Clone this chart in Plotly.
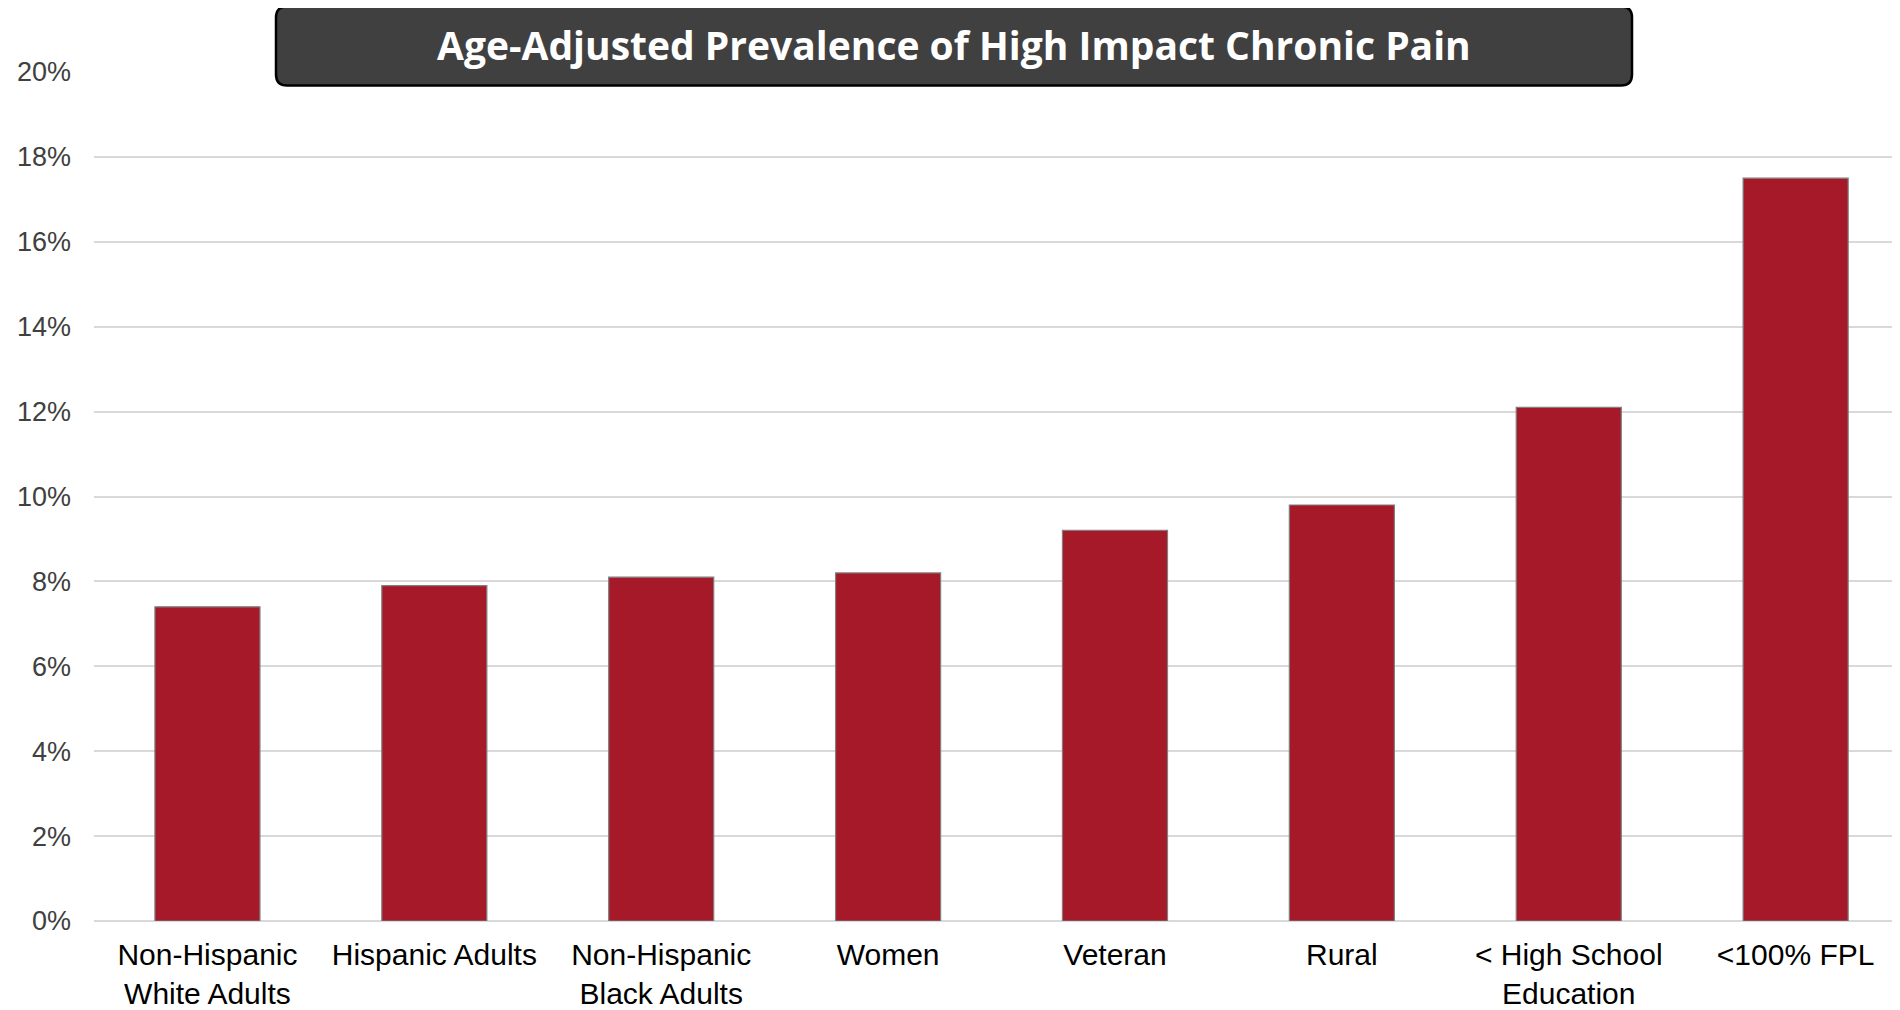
import plotly.graph_objects as go

categories = ["Non-Hispanic<br>White Adults", "Hispanic Adults", "Non-Hispanic<br>Black Adults",
              "Women", "Veteran", "Rural", "< High School<br>Education", "<100% FPL"]
values = [0.074, 0.079, 0.081, 0.082, 0.092, 0.098, 0.121, 0.175]
y_ticks = [0, 0.02, 0.04, 0.06, 0.08, 0.10, 0.12, 0.14, 0.16, 0.18, 0.20]
y_tick_labels = ["0%", "2%", "4%", "6%", "8%", "10%", "12%", "14%", "16%", "18%", "20%"]
title_text = "Age-Adjusted Prevalence of High Impact Chronic Pain"

# page offset (body margin) compensation
OFF = 8
W, H = 1900 - OFF, 1010 - OFF
L, T, B = 94 - OFF, 71.5 - OFF, H - (921 - OFF)
PW, PH = W - L, H - T - B

fig = go.Figure()
fig.add_trace(go.Bar(
    x=list(range(len(categories))), y=values, width=0.463,
    marker=dict(color="#A51929", line=dict(color="#7F7F7F", width=1.2)),
    hoverinfo="skip",
))

fig.update_layout(
    width=W, height=H,
    margin=dict(l=L, r=0, t=T, b=B, pad=0, autoexpand=False),
    plot_bgcolor="white", paper_bgcolor="white",
    showlegend=False,
    font=dict(family="Arial, Liberation Sans, sans-serif"),
    xaxis=dict(
        range=[-0.5, 7.46], tickmode="array",
        tickvals=list(range(len(categories))), ticktext=categories,
        showgrid=False, zeroline=False, showline=False, ticks="",
        ticklabelstandoff=13, automargin=False,
        tickfont=dict(size=30, color="#000000"),
    ),
    yaxis=dict(
        range=[0, 0.2], tickmode="array", tickvals=y_ticks, ticktext=y_tick_labels,
        showgrid=True, gridcolor="#D9D9D9", gridwidth=2,
        zeroline=True, zerolinecolor="#D9D9D9", zerolinewidth=2,
        showline=False, ticks="", ticklabelstandoff=22, automargin=False,
        tickfont=dict(size=27, color="#404040"),
    ),
)

# rounded title box (page pixel coords -> paper coords)
def px(xp):
    return (xp - OFF - L) / PW
def py(yp):
    return (H - B - (yp - OFF)) / PH

x0, x1, y0, y1, r = 276, 1632, 6, 85, 11
path = (
    f"M {px(x0 + r)},{py(y0)} L {px(x1 - r)},{py(y0)} "
    f"Q {px(x1)},{py(y0)} {px(x1)},{py(y0 + r)} "
    f"L {px(x1)},{py(y1 - r)} Q {px(x1)},{py(y1)} {px(x1 - r)},{py(y1)} "
    f"L {px(x0 + r)},{py(y1)} Q {px(x0)},{py(y1)} {px(x0)},{py(y1 - r)} "
    f"L {px(x0)},{py(y0 + r)} Q {px(x0)},{py(y0)} {px(x0 + r)},{py(y0)} Z"
)
fig.add_shape(
    type="path", path=path, xref="paper", yref="paper", layer="above",
    fillcolor="#404040", line=dict(color="#000000", width=2.5),
)
fig.add_annotation(
    xref="paper", yref="paper",
    x=px(954), y=py(44),
    text="<b>" + title_text + "</b>", showarrow=False,
    font=dict(family="Open Sans, sans-serif", size=39, color="#FFFFFF"),
    xanchor="center", yanchor="middle",
)

fig.write_html("out.html")
